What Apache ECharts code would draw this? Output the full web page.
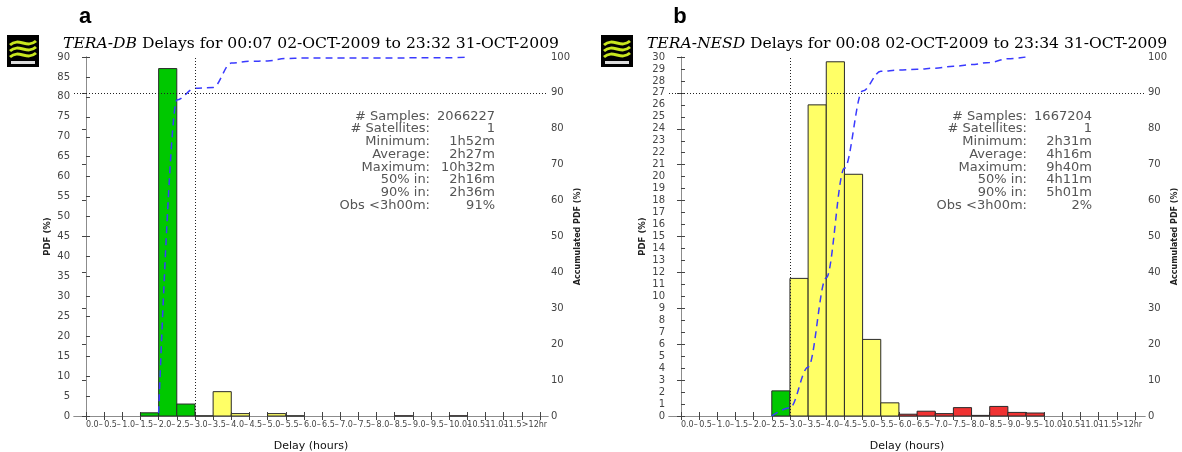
<!DOCTYPE html>
<html>
<head>
<meta charset="utf-8">
<title>TERA delays</title>
<script src="https://cdn.jsdelivr.net/npm/echarts@6/dist/echarts.min.js"></script>
<style>
html, body { margin: 0; padding: 0; background: #fff; }
#chart { width: 1182px; height: 452px; }
</style>
</head>
<body>
<div id="chart"></div>
<script>
// bins of half an hour, the last one collects everything above 12 hours
// (each label sits at the left edge of its bin, like the original plot)
var binLabels = ['0.0–', '0.5–', '1.0–', '1.5–', '2.0–', '2.5–', '3.0–', '3.5–', '4.0–', '4.5–', '5.0–', '5.5–',
	'6.0–', '6.5–', '7.0–', '7.5–', '8.0–', '8.5–', '9.0–', '9.5–', '10.0–', '10.5–', '11.0–', '11.5', '>12hr'];
var binEdges = [0, 0.5, 1, 1.5, 2, 2.5, 3, 3.5, 4, 4.5, 5, 5.5, 6, 6.5, 7, 7.5, 8, 8.5, 9, 9.5, 10, 10.5, 11, 11.5, 12, 12.5];

// panel a: TERA-DB
var pdfA = [0, 0, 0, 0.8, 87.1, 3.0, 0.05, 6.1, 0.6, 0, 0.6, 0.05, 0, 0, 0, 0, 0, 0.05, 0, 0, 0.05, 0, 0, 0, 0];
var cumA = [null, null, null, 0.8, 88, 91.3, 91.5, 98.3, 98.8, 98.9, 99.6, 99.7, 99.7, 99.7, 99.7, 99.7, 99.7, 99.8, 99.8, 99.8, 100, null, null, null, null];
var statsA = ['2066227', '1', '1h52m', '2h27m', '10h32m', '2h16m', '2h36m', '91%'];

// panel b: TERA-NESD
var pdfB = [0, 0, 0, 0, 0, 2.1, 11.5, 26.0, 29.6, 20.2, 6.4, 1.1, 0.15, 0.4, 0.2, 0.7, 0.05, 0.8, 0.3, 0.25, 0, 0, 0, 0, 0];
var cumB = [null, null, null, null, 0, 2.3, 13.6, 38.5, 69, 90.5, 96.0, 96.4, 96.6, 96.9, 97.4, 97.9, 98.5, 99.5, 100, null, null, null, null, null, null];
var statsB = ['1667204', '1', '2h31m', '4h16m', '9h40m', '4h11m', '5h01m', '2%'];

var statNames = ['# Samples:', '# Satellites:', 'Minimum:', 'Average:', 'Maximum:', '50% in:', '90% in:', 'Obs <3h00m:'];

var GREEN = '#00c800', YELLOW = '#ffff66', RED = '#f03232';
var FRAME = '#8c8c8c', TEXT = '#444';

var panels = [
	{letter: 'a', sat: 'TERA-DB', period: ' Delays for 00:07 02-OCT-2009 to 23:32 31-OCT-2009',
		left: 74, width: 474, xMax: 12.72, yMax: 90, yStep: 5, pdf: pdfA, cum: cumA, stats: statsA},
	{letter: 'b', sat: 'TERA-NESD', period: ' Delays for 00:08 02-OCT-2009 to 23:34 31-OCT-2009',
		left: 669, width: 476, xMax: 12.775, yMax: 30, yStep: 1, pdf: pdfB, cum: cumB, stats: statsB}
];

function binColor(start) {
	if(start< 3) return GREEN;
	if(start< 6) return YELLOW;
	return RED;
}

var grid = [], xAxis = [], yAxis = [], series = [], graphic = [];

panels.forEach(function(p, k) {
	grid.push({left: p.left, top: 57, width: p.width, height: 359, containLabel: false, outerBoundsMode: 'none'});
	var ticks = {show: true, inside: true, length: 4, customValues: binEdges, lineStyle: {color: '#444'}};
	xAxis.push({
		gridIndex: k, type: 'value', position: 'bottom', min: -0.33, max: p.xMax,
		axisLine: {show: true, lineStyle: {color: FRAME}},
		axisTick: ticks,
		axisLabel: {show: true, customValues: binEdges.slice(0, -1), showMinLabel: true, showMaxLabel: true, hideOverlap: false,
			align: 'left', margin: 5, fontSize: 8, color: TEXT, fontFamily: 'DejaVu Sans',
			formatter: function(v) { return binLabels[Math.round(v/ 0.5)]; }},
		splitLine: {show: false},
		name: 'Delay (hours)', nameLocation: 'middle', nameGap: 25,
		nameTextStyle: {fontSize: 11, color: '#111', fontFamily: 'DejaVu Sans'}
	});
	xAxis.push({
		gridIndex: k, type: 'value', position: 'top', min: -0.33, max: p.xMax,
		axisLine: {show: true, lineStyle: {color: FRAME}},
		axisTick: ticks, axisLabel: {show: false}, splitLine: {show: false}
	});
	yAxis.push({
		gridIndex: k, type: 'value', position: 'left', min: 0, max: p.yMax, interval: p.yStep,
		axisLine: {show: true, lineStyle: {color: FRAME}},
		axisTick: {show: true, inside: true, length: 4, lineStyle: {color: '#444'}},
		axisLabel: {margin: 4, fontSize: 10, color: TEXT, fontFamily: 'DejaVu Sans', showMinLabel: true, showMaxLabel: true},
		splitLine: {show: false},
		name: 'PDF (%)', nameLocation: 'middle', nameGap: 22, nameRotate: 90,
		nameTextStyle: {fontSize: 8.5, fontWeight: 'bold', color: '#222', fontFamily: 'DejaVu Sans'}
	});
	yAxis.push({
		gridIndex: k, type: 'value', position: 'right', min: 0, max: 100, interval: 10,
		axisLine: {show: true, lineStyle: {color: FRAME}},
		axisTick: {show: true, inside: true, length: 4, lineStyle: {color: '#444'}},
		axisLabel: {margin: 3, fontSize: 10, color: TEXT, fontFamily: 'DejaVu Sans', showMinLabel: true, showMaxLabel: true},
		splitLine: {show: false},
		name: 'Accumulated PDF (%)', nameLocation: 'middle', nameGap: 25, nameRotate: 90,
		nameTextStyle: {fontSize: 8, fontWeight: 'bold', color: '#222', fontFamily: 'DejaVu Sans'}
	});

	// reference lines: 90% accumulated and the 3 hour limit
	series.push({
		type: 'line', xAxisIndex: 2* k, yAxisIndex: 2* k+ 1, data: [], z: 1, silent: true,
		markLine: {silent: true, symbol: 'none', label: {show: false}, animation: false,
			lineStyle: {color: '#222', type: [1, 2], width: 1},
			data: [{yAxis: 90}, {xAxis: 3}]}
	});
	series.push({
		type: 'custom', xAxisIndex: 2* k, yAxisIndex: 2* k, z: 2,
		data: p.pdf.map(function(v, i) { return [binEdges[i], binEdges[i+ 1], v]; }),
		renderItem: function(params, api) {
			var v = api.value(2);
			if(!v) return null;
			var p0 = api.coord([api.value(0), v]);
			var p1 = api.coord([api.value(1), 0]);
			return {type: 'rect', shape: {x: p0[0], y: p0[1], width: p1[0]- p0[0], height: p1[1]- p0[1]},
				style: {fill: binColor(api.value(0)), stroke: '#2a2a2a', lineWidth: 1}};
		}
	});
	var line = [];
	p.cum.forEach(function(v, i) { if(v!== null) line.push([binEdges[i+ 1], v]); });
	series.push({
		type: 'line', xAxisIndex: 2* k, yAxisIndex: 2* k+ 1, data: line, z: 3,
		smooth: 0.35, smoothMonotone: 'x', symbol: 'none',
		lineStyle: {color: '#3a3aff', width: 1.5, type: [7, 5]}
	});

	var right = p.left+ p.width;
	var mid = p.left+ p.width/ 2;
	graphic.push({type: 'text', style: {x: p.left+ 11, y: 17, text: p.letter, font: 'bold 22px "Liberation Sans"', fill: '#000', align: 'center', verticalAlign: 'middle'}});
	graphic.push({type: 'text', style: {x: mid, y: 44, text: '{i|'+ p.sat+ '}'+ p.period, align: 'center', verticalAlign: 'middle',
		font: '15.6px "DejaVu Serif"', fill: '#000', rich: {i: {fontStyle: 'italic', fontSize: 15.6, fontFamily: 'DejaVu Serif', fill: '#000'}}}});
	graphic.push({type: 'text', style: {x: right- 118, y: 110, text: statNames.join('\n'), align: 'right', verticalAlign: 'top',
		fontSize: 13, lineHeight: 12.7, fontFamily: 'DejaVu Sans', fill: '#555'}});
	graphic.push({type: 'text', style: {x: right- 53, y: 110, text: p.stats.join('\n'), align: 'right', verticalAlign: 'top',
		fontSize: 13, lineHeight: 12.7, fontFamily: 'DejaVu Sans', fill: '#555'}});
	// small logo
	var lx = k=== 0? 7: 601;
	graphic.push({type: 'group', x: lx, y: 35, children: [
		{type: 'rect', shape: {x: 0, y: 0, width: 32, height: 32}, style: {fill: '#000'}},
		{type: 'bezierCurve', shape: {x1: 3, y1: 10, cpx1: 12, cpy1: 2, cpx2: 20, cpy2: 14, x2: 29, y2: 6}, style: {stroke: '#c8e61e', lineWidth: 3, fill: null}},
		{type: 'bezierCurve', shape: {x1: 3, y1: 16, cpx1: 12, cpy1: 8, cpx2: 20, cpy2: 20, x2: 29, y2: 12}, style: {stroke: '#c8e61e', lineWidth: 3, fill: null}},
		{type: 'bezierCurve', shape: {x1: 3, y1: 22, cpx1: 12, cpy1: 14, cpx2: 20, cpy2: 26, x2: 29, y2: 18}, style: {stroke: '#c8e61e', lineWidth: 3, fill: null}},
		{type: 'rect', shape: {x: 4, y: 26, width: 24, height: 3}, style: {fill: '#ddd'}}
	]});
});

var chart = echarts.init(document.getElementById('chart'), null, {renderer: 'canvas'});
chart.setOption({
	animation: false,
	backgroundColor: '#fff',
	grid: grid,
	xAxis: xAxis,
	yAxis: yAxis,
	series: series,
	graphic: graphic
});
</script>
</body>
</html>
